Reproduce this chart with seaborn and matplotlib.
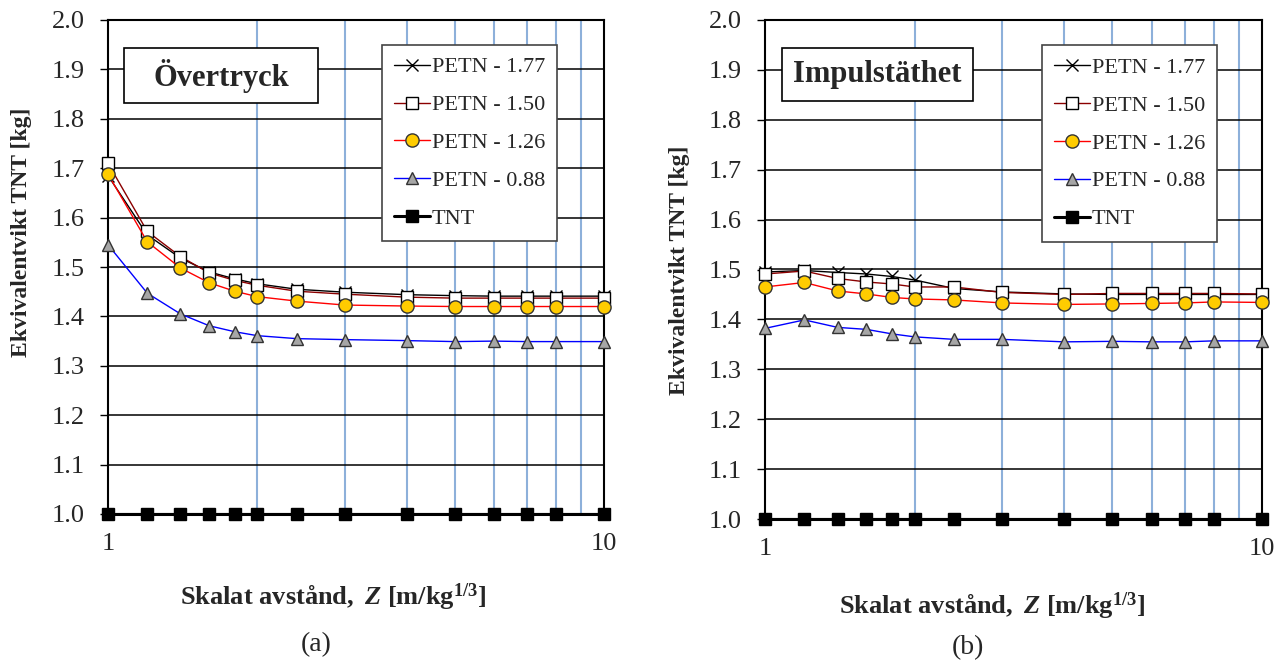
import numpy as np
import pandas as pd
import matplotlib
matplotlib.use("Agg")
import matplotlib.pyplot as plt
from matplotlib.patches import Rectangle
import seaborn as sns

# ---- data ----
z = [1.0, 1.2, 1.4, 1.6, 1.8, 2.0, 2.4, 3.0, 4.0, 5.0, 6.0, 7.0, 8.0, 10.0]
labels = ["PETN - 1.77", "PETN - 1.50", "PETN - 1.26", "PETN - 0.88", "TNT"]

# (a) Overtryck
a_petn177 = [1.685, 1.565, 1.518, 1.490, 1.476, 1.466, 1.455, 1.449, 1.444, 1.442, 1.441, 1.441, 1.441, 1.441]
a_petn150 = [1.710, 1.572, 1.521, 1.488, 1.473, 1.463, 1.451, 1.445, 1.439, 1.437, 1.437, 1.437, 1.437, 1.437]
a_petn126 = [1.688, 1.551, 1.498, 1.468, 1.451, 1.440, 1.431, 1.423, 1.421, 1.420, 1.420, 1.420, 1.420, 1.420]
a_petn088 = [1.545, 1.447, 1.405, 1.381, 1.369, 1.361, 1.355, 1.353, 1.351, 1.349, 1.350, 1.349, 1.349, 1.349]
a_tnt = [1.0] * 14

# (b) Impulstathet
b_petn177 = [1.495, 1.498, 1.494, 1.491, 1.486, 1.479, 1.462, 1.455, 1.451, 1.450, 1.450, 1.450, 1.450, 1.450]
b_petn150 = [1.491, 1.497, 1.482, 1.475, 1.471, 1.465, 1.465, 1.454, 1.450, 1.452, 1.452, 1.452, 1.452, 1.451]
b_petn126 = [1.465, 1.474, 1.457, 1.451, 1.444, 1.441, 1.439, 1.433, 1.430, 1.431, 1.432, 1.433, 1.435, 1.434]
b_petn088 = [1.382, 1.399, 1.384, 1.380, 1.371, 1.365, 1.360, 1.360, 1.355, 1.356, 1.355, 1.355, 1.357, 1.357]
b_tnt = [1.0] * 14

titles = ["Övertryck", "Impulstäthet"]
panel_tags = ["(a)", "(b)"]

sns.set_theme(style="ticks")
plt.rcParams["font.family"] = ["Liberation Serif", "DejaVu Serif"]
plt.rcParams["mathtext.fontset"] = "custom"
plt.rcParams["mathtext.rm"] = "Liberation Serif:bold"
plt.rcParams["mathtext.it"] = "Liberation Serif:bold:italic"
plt.rcParams["mathtext.bf"] = "Liberation Serif:bold"

fig = plt.figure(figsize=(12.77, 6.64), dpi=100)
ax1 = fig.add_axes([108 / 1277, 1 - 514 / 664, 496 / 1277, 494 / 664])
ax2 = fig.add_axes([765 / 1277, 1 - 519 / 664, 497 / 1277, 499 / 664])

styles = [
    dict(color="black", marker="x", ms=8, mew=1.0, mec="black", mfc="black", lw=1.0),
    dict(color="#8B0000", marker="s", ms=9, mew=1.0, mec="black", mfc="white", lw=1.0),
    dict(color="red", marker="o", ms=9.5, mew=1.0, mec="#333333", mfc="#FFCC00", lw=1.0),
    dict(color="blue", marker="^", ms=9, mew=1.0, mec="#333333", mfc="#A6A6A6", lw=1.0),
    dict(color="black", marker="s", ms=8.5, mew=1.0, mec="black", mfc="black", lw=2.2),
]

panels = [
    (ax1, [a_petn177, a_petn150, a_petn126, a_petn088, a_tnt]),
    (ax2, [b_petn177, b_petn150, b_petn126, b_petn088, b_tnt]),
]

title_rects = [(0.0323, 0.832, 0.392, 0.111), (0.0342, 0.838, 0.384, 0.106)]
legend_x = [0.552, 0.557]

for i, (ax, series) in enumerate(panels):
    ax.set_xscale("log")
    ax.set_xlim(1, 10)
    ax.set_ylim(1.0, 2.0)
    # grid
    for yv in np.arange(1.1, 2.0, 0.1):
        ax.axhline(yv, color="black", lw=1.1, zorder=0.5)
    for xv in range(2, 10):
        ax.axvline(xv, color="#8DB0DA", lw=1.5, zorder=0.4)
    for lab, vals, st in zip(labels, series, styles):
        df = pd.DataFrame({"Z": z, "v": vals})
        sns.lineplot(data=df, x="Z", y="v", ax=ax, label=lab, clip_on=False,
                     zorder=3, **st)
    ax.set_xticks([1, 10])
    ax.set_xticklabels(["1", "10"])
    ax.xaxis.set_minor_locator(matplotlib.ticker.NullLocator())
    yt = np.round(np.arange(1.0, 2.01, 0.1), 1)
    ax.set_yticks(yt)
    ax.set_yticklabels([f"{v:.1f}" for v in yt])
    ax.tick_params(axis="y", which="major", direction="out", length=6, width=1.0,
                   color="black", labelsize=19, pad=11, left=True)
    ax.tick_params(axis="x", which="major", direction="out", length=4, width=1.0,
                   color="black", labelsize=19, pad=10, bottom=True)
    for sp in ax.spines.values():
        sp.set_visible(True)
        sp.set_color("black")
        sp.set_linewidth(1.5)
    ax.set_xlabel("")
    ax.set_ylabel("")
    leg = ax.legend(loc="upper left", bbox_to_anchor=(legend_x[i], 0.95), borderaxespad=0,
                    frameon=True, fancybox=False, edgecolor="#444444", framealpha=1,
                    fontsize=16, handlelength=1.6, handletextpad=0.1,
                    labelspacing=0.78, borderpad=0.55)
    leg.get_frame().set_linewidth(1.2)
    leg.set_zorder(5)
    rect = title_rects[i]
    ax.add_patch(Rectangle(rect[:2], rect[2], rect[3], transform=ax.transAxes,
                           fc="white", ec="black", lw=1.2, zorder=5))
    ax.text(rect[0] + rect[2] / 2, rect[1] + rect[3] / 2, titles[i],
            transform=ax.transAxes, ha="center", va="center",
            fontsize=22, fontweight="bold", zorder=6)

xlab = r"$\mathrm{Skalat\ avstånd,}\ \mathit{Z}\ \mathrm{[m/kg^{1/3}]}$"
fig.text(333 / 1277, 1 - 597 / 664, xlab, ha="center", va="center", fontsize=19)
fig.text(992 / 1277, 1 - 606 / 664, xlab, ha="center", va="center", fontsize=19)
fig.text(22 / 1277, 1 - 232 / 664, "Ekvivalentvikt TNT [kg]", rotation=90,
         ha="center", va="center", fontsize=17, fontweight="bold")
fig.text(680 / 1277, 1 - 270 / 664, "Ekvivalentvikt TNT [kg]", rotation=90,
         ha="center", va="center", fontsize=17, fontweight="bold")
fig.text(316 / 1277, 1 - 645 / 664, panel_tags[0], ha="center", va="center", fontsize=20)
fig.text(968 / 1277, 1 - 648 / 664, panel_tags[1], ha="center", va="center", fontsize=20)

fig.savefig("out.png", dpi=100, facecolor="white")
